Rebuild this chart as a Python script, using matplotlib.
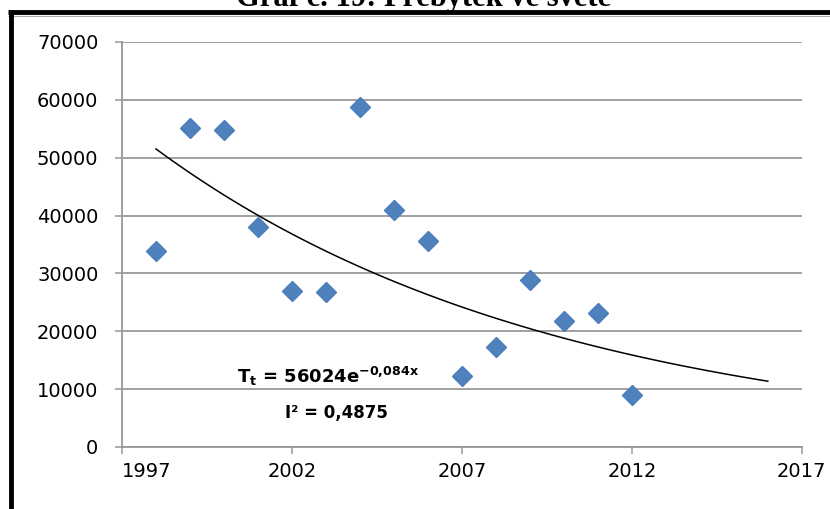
import numpy as np
import matplotlib
matplotlib.use("Agg")
import matplotlib.pyplot as plt
from matplotlib.lines import Line2D

# data
years = [1998, 1999, 2000, 2001, 2002, 2003, 2004, 2005, 2006, 2007, 2008, 2009, 2010, 2011, 2012]
surplus = [33800, 55200, 54700, 38100, 27000, 26800, 58800, 41000, 35600, 12300, 17300, 28800, 21700, 23100, 8900]

# exponential trend shown on the chart, x = 1 for 1998, drawn up to 2016
trend_a = 56024
trend_b = -0.084
trend_years = np.arange(1998, 2016.01, 0.25)

x_ticks = [1997, 2002, 2007, 2012, 2017]
y_ticks = [0, 10000, 20000, 30000, 40000, 50000, 60000, 70000]

title = "Graf č. 19: Přebytek ve světě"
eq_text = r"T$_t$ = 56024e$^{-0{,}084x}$"
r2_text = "I² = 0,4875"

plt.rcParams['font.family'] = ['DejaVu Sans']
plt.rcParams['mathtext.default'] = 'bf'

grid_col = '#999999'

fig = plt.figure(figsize=(8.3, 5.09), dpi=100)
ax = fig.add_axes([0.147, 0.122, 0.819, 0.7955])

ax.plot(years, surplus, linestyle='none', marker='D', markersize=10,
        color='#4F81BD', markeredgecolor='#4A7EBB', zorder=3)

t = trend_years - 1997
ax.plot(trend_years, trend_a * np.exp(trend_b * t), color='black', lw=1.1, zorder=2)

ax.set_xlim(1997, 2017)
ax.set_ylim(0, 70000)
ax.set_xticks(x_ticks)
ax.set_yticks(y_ticks)
ax.set_xticklabels([str(v) for v in x_ticks])
ax.set_yticklabels([str(v) for v in y_ticks])
ax.yaxis.grid(True, color=grid_col, lw=1.3)
ax.set_axisbelow(True)

for s in ['top', 'right']:
    ax.spines[s].set_visible(False)
for s in ['left', 'bottom']:
    ax.spines[s].set_color(grid_col)
    ax.spines[s].set_linewidth(1.3)

ax.tick_params(axis='y', direction='out', length=5, width=1.1, color=grid_col,
               labelsize=14, pad=12)
ax.tick_params(axis='x', direction='out', length=5, width=1.1, color=grid_col,
               labelsize=14, pad=6)
# Excel keeps the first label inside the chart area
ax.get_xticklabels()[0].set_horizontalalignment('left')

ax.text(2003.05, 11100, eq_text, fontsize=13, fontweight='bold', ha='center')
ax.text(2003.3, 5000, r2_text, fontsize=12, fontweight='bold', ha='center')

# cut-off title and the frame of the page
fig.text(0.51, 1 - 6 / 509, title, fontsize=22, fontweight='bold',
         family='Liberation Serif', ha='center', va='baseline')
fig.add_artist(Line2D([8 / 830, 1], [1 - 12 / 509, 1 - 12 / 509], color='black',
                      lw=3.5, solid_capstyle='butt'))
fig.add_artist(Line2D([8 / 830, 1], [1 - 15.5 / 509, 1 - 15.5 / 509], color='#aaaaaa',
                      lw=0.8, solid_capstyle='butt'))
fig.add_artist(Line2D([10.5 / 830, 10.5 / 830], [0, 1 - 10 / 509], color='black',
                      lw=3.5, solid_capstyle='butt'))

fig.savefig("out.png", dpi=100)
